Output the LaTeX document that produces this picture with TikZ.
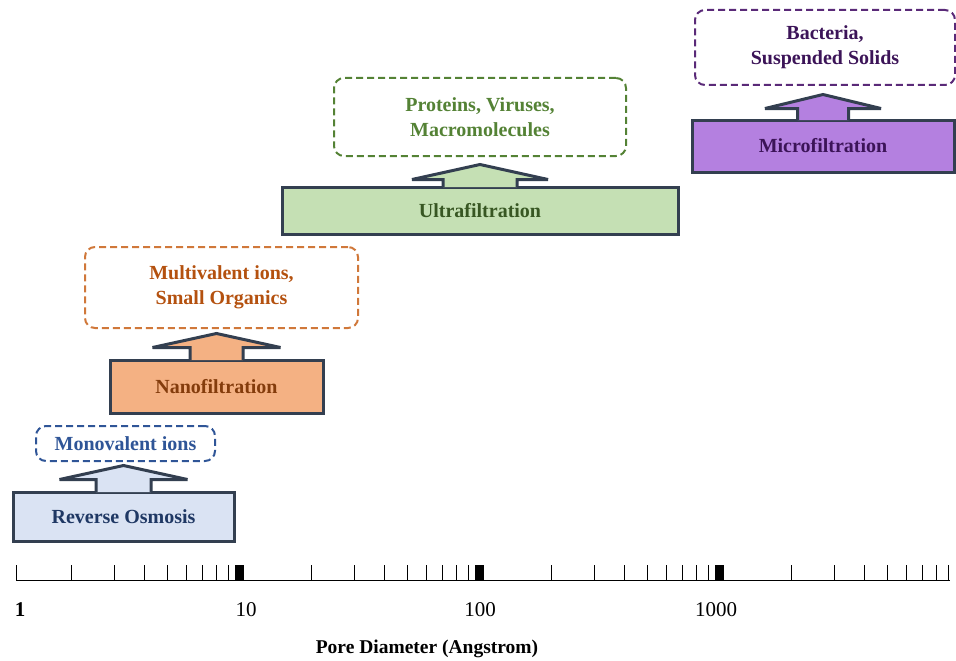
\documentclass[tikz,border=0pt]{standalone}
\usepackage{fontspec}
\setmainfont{Liberation Serif}
\usetikzlibrary{positioning}
\usepackage{xcolor}

\definecolor{edgeblue}{HTML}{333F50}
\definecolor{rofill}{HTML}{DAE3F3}
\definecolor{rotext}{HTML}{1F3864}
\definecolor{monoblue}{HTML}{2F5597}
\definecolor{nffill}{HTML}{F4B183}
\definecolor{nftext}{HTML}{843C0C}
\definecolor{multitext}{HTML}{B4510F}
\definecolor{multidash}{HTML}{D0783A}
\definecolor{uffill}{HTML}{C5E0B4}
\definecolor{uftext}{HTML}{385723}
\definecolor{protgreen}{HTML}{548235}
\definecolor{mffill}{HTML}{B480E0}
\definecolor{mftext}{HTML}{3C1458}
\definecolor{bactdash}{HTML}{5A2A78}

% arrow on top of a filter box: #1 box, #2 half stem, #3 half head, #4 stem height, #5 head height, #6 fill
\newcommand{\uparrowon}[6]{%
  \draw[outline, miter limit=2, fill=#6] ([xshift=-#2pt, yshift=-1.5pt]#1.north) -- ([xshift=-#2pt, yshift=#4pt]#1.north)
    -- ([xshift=-#3pt, yshift=#4pt]#1.north) -- ([yshift=#4pt+#5pt]#1.north)
    -- ([xshift=#3pt, yshift=#4pt]#1.north) -- ([xshift=#2pt, yshift=#4pt]#1.north)
    -- ([xshift=#2pt, yshift=-1.5pt]#1.north);
}

\begin{document}
\begin{tikzpicture}[x=1pt, y=-1pt]
\tikzset{
outline/.style={draw=edgeblue, line width=3pt, line join=miter}, % dark edge of the filter boxes
filter/.style={outline, rectangle, inner sep=0pt, font=\fontsize{20}{24}\selectfont\bfseries}, % filter box
retained/.style={rectangle, rounded corners=10pt, dashed, line width=2pt, dash pattern=on 7pt off 4pt, align=center, inner sep=0pt, font=\fontsize{20}{25}\selectfont\bfseries}, % what is held back
tick/.style={line width=0.9pt, black}, % axis ticks
}
\useasboundingbox (0,0) rectangle (956,661);

	% filter boxes
	\node[filter, fill=rofill, text=rotext, minimum width=221pt, minimum height=49pt] (ro) at (123.5,516.5) {Reverse Osmosis};
	\node[filter, fill=nffill, text=nftext, minimum width=213pt, minimum height=53pt] (nf) at (216.5,386.5) {Nanofiltration};
	\node[filter, fill=uffill, text=uftext, minimum width=396pt, minimum height=47pt] (uf) at (480,210.5) {Ultrafiltration};
	\node[filter, fill=mffill, text=mftext, minimum width=262pt, minimum height=52pt] (mf) at (823,146) {Microfiltration};

	% retained species
	\node[retained, draw=monoblue, text=monoblue, minimum width=179pt, minimum height=35pt] (mono) at (125.5,443.5) {Monovalent ions};
	\node[retained, draw=multidash, text=multitext, minimum width=273pt, minimum height=81pt] (multi) at (221.5,287.5) {Multivalent ions,\\Small Organics};
	\node[retained, draw=protgreen, text=protgreen, minimum width=292pt, minimum height=78pt] (prot) at (480,117) {Proteins, Viruses,\\Macromolecules};
	\node[retained, draw=bactdash, text=mftext, minimum width=260pt, minimum height=75pt] (bact) at (825,47.5) {Bacteria,\\Suspended Solids};

	% arrows from box to species
	\uparrowon{ro}{27.5}{64}{11}{14}{rofill}
	\uparrowon{nf}{26.5}{64}{11}{14}{nffill}
	\uparrowon{uf}{37}{68}{6}{15}{uffill}
	\uparrowon{mf}{25.5}{58}{10}{14}{mffill}

	% log axis
	\draw[tick] (16,580) -- (950,580);
	\draw[tick] (16,580) -- (16,565);
	\foreach \d in {0,1,2,3}
		\foreach \m in {2,...,9}
			\draw[tick] ({-0.5+240*(\d+log10(\m))},580) -- ++(0,-15);
	\foreach \v in {1,2,3}
		\fill (240*\v-5,565) rectangle ++(9,15);

	\node[font=\fontsize{21}{21}\selectfont\bfseries] (n1) at (20,610) {1};
	\node[font=\fontsize{21}{21}\selectfont] (n10) at (246,610) {10};
	\node[font=\fontsize{21}{21}\selectfont] (n100) at (480,610) {100};
	\node[font=\fontsize{21}{21}\selectfont] (n1000) at (716,610) {1000};
	\node[font=\fontsize{19.5}{20}\selectfont\bfseries] (xlabel) at (427,649) {Pore Diameter (Angstrom)};
\end{tikzpicture}
\end{document}
